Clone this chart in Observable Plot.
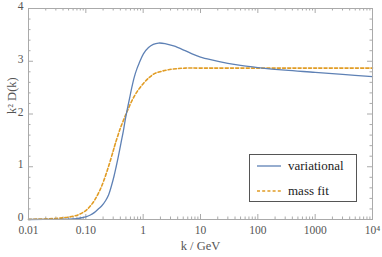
<!DOCTYPE html>
<html><head><meta charset="utf-8">
<script src="https://cdn.jsdelivr.net/npm/d3@7"></script>
<script src="https://cdn.jsdelivr.net/npm/@observablehq/plot@0.6"></script>
<style>
body{margin:0;background:#fff;}
#wrap{position:relative;width:382px;height:257px;}
#legend{position:absolute;left:249px;top:154px;width:106px;height:46px;border:1px solid #555;background:#fff;font-family:"Liberation Serif","Times New Roman","DejaVu Serif",serif;font-size:13px;color:#222;}
.row{position:absolute;left:0;height:16px;display:flex;align-items:center;}
.row svg{margin-left:7px;margin-right:7px;}
</style></head>
<body><div id="wrap"><div id="legend"></div></div>
<script>
const kVar = [0.01,0.03,0.05,0.07,0.085,0.1,0.12,0.14,0.165,0.19,0.222,0.25,0.28,0.31,0.338,0.37,0.41,0.45,0.485,0.54,0.59,0.63,0.7,0.78,0.85,1.01,1.24,1.5,1.85,2.4,3.4,5.4,7.5,10,15,30,50,100,300,1000,3000,10000];
const variational = [0,0.002,0.006,0.018,0.033,0.05,0.085,0.13,0.2,0.26,0.36,0.47,0.64,0.82,1.0,1.2,1.45,1.67,1.88,2.14,2.34,2.49,2.7,2.86,2.96,3.14,3.26,3.32,3.345,3.335,3.29,3.2,3.13,3.08,3.03,2.96,2.92,2.88,2.83,2.79,2.75,2.71];
const kFit = [0.01,0.03,0.05,0.074,0.1,0.125,0.145,0.175,0.203,0.248,0.3,0.325,0.4,0.485,0.55,0.635,0.78,1.01,1.3,1.6,2.1,2.77,4,5.4,10,100,1000,10000];
const massFit = [0.003,0.02,0.045,0.09,0.17,0.28,0.38,0.55,0.72,1.0,1.3,1.43,1.73,1.96,2.1,2.25,2.42,2.58,2.7,2.77,2.81,2.84,2.86,2.87,2.87,2.87,2.87,2.87];
const xMajor = [0.01,0.1,1,10,100,1000,10000];
const xLabels = ["0.01","0.10","1","10","100","1000","10\u2074"];
const yMajor = [0,1,2,3,4];
const yLabels = ["0","1","2","3","4"];
const seriesNames = ["variational","mass fit"];
const colors = ["#5e81b5","#e19c24"];

const xMinor = [];
for (let e=-2;e<4;e++) for (let m=2;m<10;m++) xMinor.push(m*Math.pow(10,e));
const yMinor = [];
for (let i=0;i<20;i++) if (i%5) yMinor.push(i*0.2);

const varData = kVar.map((k,i)=>({k, v: variational[i]}));
const fitData = kFit.map((k,i)=>({k, v: massFit[i]}));

const W=382,H=257,mL=28,mR=10,mT=8,mB=38;
const fh = H-mT-mB, fw = W-mL-mR;
const tc = "#aaaaaa";
const font = '"Liberation Serif","Times New Roman","DejaVu Serif",serif';

const chart = Plot.plot({
  width: W, height: H,
  marginLeft: mL, marginRight: mR, marginTop: mT, marginBottom: mB,
  x: {type: "log", domain: [0.01, 10000], axis: null},
  y: {domain: [0, 4], axis: null},
  style: {fontFamily: font, fontSize: "12px", background: "#fff"},
  marks: [
    Plot.tickX(xMajor, {x: d=>d, stroke: tc, insetTop: fh-5}),
    Plot.tickX(xMajor, {x: d=>d, stroke: tc, insetBottom: fh-5}),
    Plot.tickX(xMinor, {x: d=>d, stroke: tc, insetTop: fh-2.5}),
    Plot.tickX(xMinor, {x: d=>d, stroke: tc, insetBottom: fh-2.5}),
    Plot.tickY(yMajor, {y: d=>d, stroke: tc, insetRight: fw-5}),
    Plot.tickY(yMajor, {y: d=>d, stroke: tc, insetLeft: fw-5}),
    Plot.tickY(yMinor, {y: d=>d, stroke: tc, insetRight: fw-2.5}),
    Plot.tickY(yMinor, {y: d=>d, stroke: tc, insetLeft: fw-2.5}),
    Plot.line(fitData, {x: "k", y: "v", stroke: colors[1], strokeWidth: 1.6, strokeDasharray: "3,2.2", curve: "catmull-rom"}),
    Plot.line(varData, {x: "k", y: "v", stroke: colors[0], strokeWidth: 1.3, curve: "catmull-rom"}),
    Plot.frame({stroke: tc}),
    Plot.text(xMajor, {x: d=>d, text: (d,i)=>xLabels[i], frameAnchor: "bottom", dy: 14.5, fill: "#555", fontSize: 11.5}),
    Plot.text(yMajor, {y: d=>d, text: (d,i)=>yLabels[i], frameAnchor: "left", dx: -5, dy: -2, textAnchor: "end", fill: "#555", fontSize: 11.5}),
    Plot.text(["k / GeV"], {frameAnchor: "bottom", dy: 30.5, fill: "#555", fontSize: 12.5}),
    Plot.text(["k\u00b2 D(k)"], {frameAnchor: "left", rotate: -90, dx: -17, fill: "#555", fontSize: 12.5})
  ]
});
document.getElementById("wrap").prepend(chart);

const leg = document.getElementById("legend");
seriesNames.forEach((name,i)=>{
  const row = document.createElement("div");
  row.className = "row";
  row.style.top = (i===0 ? 3 : 28) + "px";
  row.innerHTML = `<svg width="24" height="4"><line x1="0" y1="2" x2="24" y2="2" stroke="${colors[i]}" stroke-width="${i?1.6:1.3}" ${i?'stroke-dasharray="3,2.2"':''}/></svg><span>${name}</span>`;
  leg.appendChild(row);
});
</script></body></html>
